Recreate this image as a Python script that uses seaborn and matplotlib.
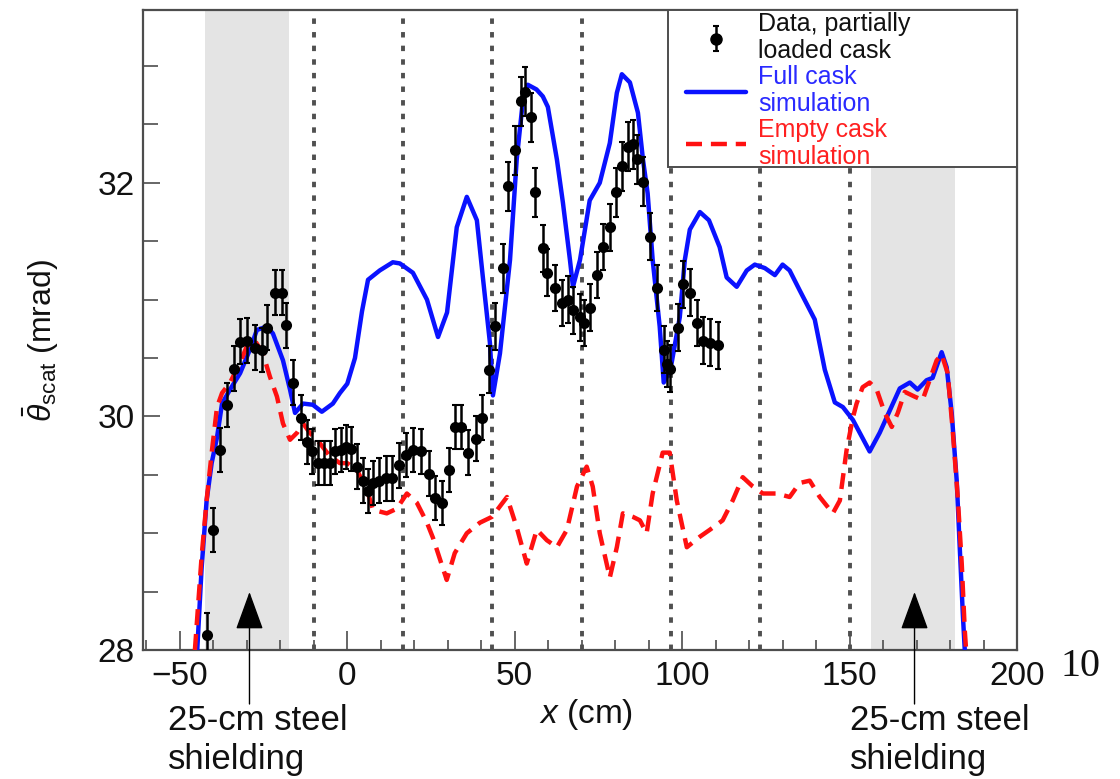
import numpy as np
import pandas as pd
import matplotlib
matplotlib.use("Agg")
import matplotlib.pyplot as plt
from matplotlib.lines import Line2D
from matplotlib.patches import Rectangle
import seaborn as sns

# ---------------- data ----------------
full_x = [-44.8, -43.5, -42.0, -40.5, -38.9, -37.4, -35.0, -32.0, -29.1, -27.0, -24.0, -22.2,
          -19.2, -17.1, -15.6, -13.2, -10.3, -7.6, -4.3, -2.2, 0.0, 2.3, 4.4, 6.2, 9.7, 13.6,
          15.7, 19.6, 23.8, 27.1, 29.8, 32.7, 35.7, 38.7, 40.5, 42.6, 43.5, 45.6, 48.6, 50.6,
          52.4, 53.9, 56.5, 58.4, 59.9, 62.6, 64.4, 66.5, 67.4, 69.5, 72.4, 75.4, 78.4, 80.5,
          82.0, 84.4, 86.8, 88.3, 89.7, 91.2, 93.3, 94.5, 96.5, 99.3, 100.8, 102.3, 105.3,
          108.0, 111.2, 113.3, 116.3, 119.3, 121.7, 124.7, 127.7, 130.0, 132.1, 135.1, 139.6,
          142.6, 145.6, 148.0, 151.0, 156.0, 159.0, 162.0, 165.0, 168.0, 170.3, 173.0, 174.8,
          177.5, 179.0, 180.5, 182.0, 182.9, 183.8, 184.4]
full_y = [28.0, 28.7, 29.28, 29.6, 29.82, 30.11, 30.23, 30.37, 30.57, 30.74, 30.77, 30.71,
          30.48, 30.23, 30.03, 30.11, 30.10, 30.04, 30.11, 30.20, 30.28, 30.50, 30.90, 31.17,
          31.25, 31.32, 31.31, 31.23, 31.00, 30.68, 30.89, 31.62, 31.88, 31.68, 31.19, 30.63,
          30.18, 30.54, 31.34, 32.20, 32.69, 32.84, 32.80, 32.74, 32.65, 32.20, 31.83, 31.34,
          31.11, 31.34, 31.85, 32.00, 32.34, 32.77, 32.93, 32.86, 32.60, 32.20, 31.91, 31.34,
          30.77, 30.29, 30.40, 30.85, 31.34, 31.60, 31.75, 31.68, 31.45, 31.19, 31.11, 31.25,
          31.30, 31.27, 31.21, 31.30, 31.25, 31.08, 30.83, 30.40, 30.12, 30.08, 29.97, 29.70,
          29.86, 30.05, 30.24, 30.29, 30.23, 30.31, 30.33, 30.55, 30.42, 30.03, 29.45, 28.88,
          28.32, 28.0]

empty_x = [-45.5, -43.5, -41.9, -40.4, -38.9, -37.4, -35.0, -32.0, -30.0, -27.6, -25.2, -23.1,
           -21.0, -19.2, -17.1, -15.0, -13.2, -11.2, -8.2, -5.2, -2.2, 0.0, 2.9, 5.9, 7.7, 11.8,
           14.8, 17.8, 20.8, 23.8, 25.6, 29.7, 32.1, 35.7, 39.6, 43.2, 47.7, 50.6, 53.6, 56.6,
           59.6, 62.6, 65.6, 68.6, 71.5, 73.3, 75.4, 78.4, 80.5, 82.3, 85.3, 87.4, 89.4, 91.2,
           94.2, 96.3, 98.4, 101.4, 105.3, 108.3, 112.1, 115.1, 118.1, 121.1, 124.1, 128.3,
           132.1, 135.1, 138.1, 141.1, 145.0, 147.1, 149.1, 151.0, 152.1, 153.9, 156.0, 158.1,
           160.5, 162.6, 164.4, 166.5, 169.4, 171.8, 173.9, 176.0, 177.5, 179.3, 180.8, 182.3,
           183.5, 184.4, 184.8]
empty_y = [28.0, 28.8, 29.31, 29.71, 30.08, 30.20, 30.29, 30.46, 30.60, 30.65, 30.54, 30.34,
           30.17, 29.94, 29.80, 29.86, 29.94, 29.86, 29.77, 29.66, 29.60, 29.60, 29.54, 29.37,
           29.20, 29.17, 29.21, 29.34, 29.26, 29.09, 28.96, 28.60, 28.83, 29.00, 29.09, 29.14,
           29.31, 29.05, 28.74, 29.03, 28.94, 28.88, 29.03, 29.40, 29.57, 29.40, 29.00, 28.62,
           28.88, 29.17, 29.14, 29.11, 29.00, 29.34, 29.69, 29.69, 29.28, 28.88, 28.97, 29.03,
           29.11, 29.28, 29.48, 29.40, 29.34, 29.34, 29.31, 29.43, 29.45, 29.31, 29.17, 29.28,
           29.71, 29.99, 30.11, 30.25, 30.29, 30.23, 30.03, 29.91, 30.03, 30.21, 30.17, 30.14,
           30.31, 30.48, 30.53, 30.37, 29.88, 29.31, 28.74, 28.17, 28.0]

data_x = [-41.9, -40.1, -38.0, -35.9, -33.8, -32.0, -30.0, -27.6, -25.5, -24.0, -21.6, -19.5,
          -18.3, -16.2, -13.8, -12.0, -10.4, -8.6, -6.9, -5.2, -3.6, -2.0, -0.3, 1.2, 2.9, 4.6,
          6.2, 7.8, 9.6, 11.5, 13.5, 15.5, 17.6, 19.6, 22.0, 24.5, 26.3, 28.4, 30.5, 32.2, 34.1,
          36.0, 38.5, 40.3, 42.3, 44.1, 46.5, 48.0, 50.0, 51.8, 53.0, 54.8, 56.0, 58.4, 59.6,
          62.0, 64.1, 65.9, 67.4, 69.5, 70.6, 72.4, 74.5, 76.3, 78.4, 80.2, 82.0, 83.8, 85.2,
          86.5, 88.3, 90.3, 92.4, 94.6, 95.6, 96.3, 98.7, 100.2, 102.3, 104.4, 106.2, 108.3,
          110.6]
data_y = [28.13, 29.03, 29.71, 30.10, 30.41, 30.64, 30.65, 30.59, 30.57, 30.76, 31.06, 31.06,
          30.78, 30.29, 29.99, 29.78, 29.70, 29.60, 29.60, 29.60, 29.70, 29.71, 29.74, 29.72,
          29.57, 29.45, 29.36, 29.43, 29.45, 29.47, 29.47, 29.58, 29.67, 29.71, 29.70, 29.51,
          29.30, 29.26, 29.54, 29.91, 29.91, 29.69, 29.81, 29.99, 30.40, 30.77, 31.27, 31.97,
          32.28, 32.70, 32.78, 32.56, 31.92, 31.44, 31.23, 31.10, 30.97, 31.00, 30.91, 30.85,
          30.80, 30.93, 31.21, 31.45, 31.62, 31.92, 32.14, 32.31, 32.33, 32.20, 32.01, 31.54,
          31.10, 30.57, 30.45, 30.41, 30.76, 31.13, 31.06, 30.80, 30.65, 30.63, 30.61]
data_err = [0.19, 0.19, 0.19, 0.19, 0.19, 0.19, 0.19, 0.19, 0.19, 0.19, 0.19, 0.19,
            0.19, 0.19, 0.19, 0.19, 0.19, 0.19, 0.19, 0.19, 0.19, 0.19, 0.19, 0.19,
            0.19, 0.19, 0.19, 0.19, 0.19, 0.19, 0.19, 0.19, 0.19, 0.19, 0.19, 0.19,
            0.19, 0.19, 0.19, 0.19, 0.19, 0.19, 0.19, 0.19, 0.20, 0.20, 0.21, 0.21,
            0.21, 0.21, 0.21, 0.21, 0.21, 0.20, 0.20, 0.20, 0.20, 0.20, 0.20, 0.20,
            0.20, 0.20, 0.20, 0.20, 0.20, 0.21, 0.21, 0.21, 0.21, 0.21, 0.21, 0.20,
            0.20, 0.20, 0.20, 0.20, 0.20, 0.20, 0.20, 0.20, 0.20, 0.20, 0.20]

divider_x = [-10.0, 16.7, 43.3, 70.0, 96.7, 123.3, 150.0]
shield_spans = [(-42.5, -17.5), (156.5, 181.5)]
arrow_x = [-29.2, 169.4]

legend_labels = ["Data, partially\nloaded cask", "Full cask\nsimulation", "Empty cask\nsimulation"]
annot_text = "25-cm steel\nshielding"

# ---------------- style ----------------
sns.set_style("ticks")
plt.rcParams["font.family"] = ["Liberation Sans", "DejaVu Sans"]
plt.rcParams["mathtext.fontset"] = "custom"
plt.rcParams["mathtext.rm"] = "Liberation Sans"
plt.rcParams["mathtext.it"] = "Liberation Sans:italic"
plt.rcParams["mathtext.bf"] = "Liberation Sans:bold"

W, H = 1120, 779
fig = plt.figure(figsize=(W / 100, H / 100), dpi=100)
ax = fig.add_axes([143 / W, 1 - 650 / H, 874 / W, 640 / H])

frame_col = "#4d4d4d"
blue = "#0a12ff"
red = "#ff1111"

for a, b in shield_spans:
    ax.axvspan(a, b, color="#e4e4e4", lw=0, zorder=0)
for xv in divider_x:
    ax.axvline(xv, color="#505050", lw=2.8, linestyle=(0, (1.4, 2.1)), zorder=1,
               dash_capstyle="butt")

df_full = pd.DataFrame({"x": full_x, "y": full_y})
df_empty = pd.DataFrame({"x": empty_x, "y": empty_y})
df_data = pd.DataFrame({"x": data_x, "y": data_y, "err": data_err})

sns.lineplot(data=df_full, x="x", y="y", ax=ax, sort=False, estimator=None,
             color=blue, lw=3.2, zorder=3)
sns.lineplot(data=df_empty, x="x", y="y", ax=ax, sort=False, estimator=None,
             color=red, lw=3.2, linestyle=(0, (3.6, 2.0)), zorder=4)
eb = ax.errorbar(df_data["x"], df_data["y"], yerr=df_data["err"], fmt="none",
                 ecolor="black", elinewidth=1.8, capsize=2.2, capthick=1.5, zorder=5)
sns.scatterplot(data=df_data, x="x", y="y", ax=ax, color="black", s=64,
                edgecolor="black", linewidth=0, zorder=6)

ax.set_xlim(-61, 200)
ax.set_ylim(28, 33.48)
ax.set_xticks([-50, 0, 50, 100, 150, 200])
ax.set_xticklabels(["\u221250", "0", "50", "100", "150", "200"])
ax.set_xticks(np.arange(-60, 201, 10), minor=True)
ax.set_yticks([28, 30, 32])
ax.set_yticks(np.arange(28, 33.5, 0.5), minor=True)

ax.tick_params(axis="x", which="major", direction="in", length=14, width=1.2,
               color=frame_col, labelsize=24, pad=8, labelcolor="#111111")
ax.tick_params(axis="x", which="minor", direction="in", length=7, width=1.2, color=frame_col)
ax.tick_params(axis="y", which="major", direction="in", length=12, width=1.2,
               color=frame_col, labelsize=24, pad=6, labelcolor="#111111")
ax.tick_params(axis="y", which="minor", direction="in", length=11, width=1.2, color=frame_col)
for s in ax.spines.values():
    s.set_color(frame_col)
    s.set_linewidth(1.6)

ax.set_xlabel(r"$x$ (cm)", fontsize=24, color="#111111")
ax.xaxis.set_label_coords(0.507, -0.074)
ax.set_ylabel(r"$\bar{\theta}_{\mathrm{scat}}$ (mrad)", fontsize=23, color="#111111")
ax.yaxis.set_label_coords(-0.094, 0.483)

# legend (frame drawn as a separate box so the content can sit where the reference has it)
ax.add_patch(Rectangle((0.601, 0.755), 0.399, 0.245, transform=ax.transAxes,
                       facecolor="white", edgecolor=frame_col, lw=1.4, zorder=9,
                       clip_on=False))
h_data = (eb, Line2D([], [], marker="o", color="black", ms=8, lw=0))
h_full = Line2D([], [], color=blue, lw=3.2)
h_empty = Line2D([], [], color=red, lw=3.2, linestyle=(0, (3.6, 2.0)))
leg = ax.legend([h_data, h_full, h_empty], legend_labels,
                loc="upper left", bbox_to_anchor=(0.618, 1.0),
                borderaxespad=0, borderpad=0.1, fontsize=18,
                labelcolor=["#111111", "#2a2aff", "#ff2020"],
                handlelength=2.4, handletextpad=0.5, labelspacing=0.08,
                frameon=False)
for t in leg.get_texts():
    t.set_linespacing(1.15)
leg.set_zorder(10)

# annotations below the axis (figure pixels measured from the bottom)
for xa in arrow_x:
    ax.annotate("", xy=(xa, H - 592), xytext=(xa, H - 704),
                xycoords=("data", "figure pixels"), textcoords=("data", "figure pixels"),
                arrowprops=dict(arrowstyle="-|>,head_length=1.1,head_width=0.4",
                                color="black", lw=1.0, shrinkA=0, shrinkB=0,
                                mutation_scale=22),
                annotation_clip=False)

for xl in [168, 850]:
    fig.text(xl / W, 1 - 704 / H, annot_text, fontsize=25, va="top", ha="left",
             linespacing=1.22, color="#111111")

fig.text(1080 / W, 1 - 667 / H, "10", fontsize=29, va="center", ha="center",
         family=["Liberation Serif", "DejaVu Serif"], color="#111111")

fig.savefig("out.png", dpi=100)
